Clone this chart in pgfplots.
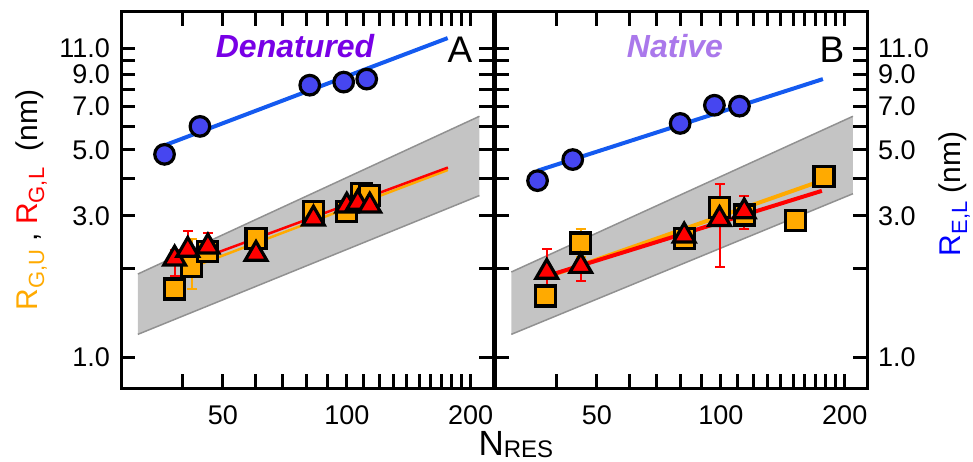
\documentclass[border=0pt]{standalone}
\usepackage{fontspec}
\setmainfont{Liberation Sans}
\usepackage{pgfplots}
\pgfplotsset{compat=1.18}

\definecolor{circfill}{RGB}{70,70,240}
\definecolor{fitblue}{RGB}{20,90,240}
\definecolor{sqorange}{RGB}{255,170,0}
\definecolor{trired}{RGB}{255,0,0}
\definecolor{bandfill}{RGB}{196,196,196}
\definecolor{bandedge}{RGB}{145,145,145}
\definecolor{denat}{RGB}{120,0,230}
\definecolor{nativec}{RGB}{170,120,235}
\definecolor{labblue}{RGB}{0,0,255}

% smaller, lowered text used for subscripts: {size}{drop}{text}
\newcommand\subs[3]{\raisebox{-#2}{\fontsize{#1}{#1}\selectfont #3}}

\pgfplotsset{
  panel/.style={
    scale only axis, width=372pt, height=376pt,
    xmin=28.3, xmax=226.5, ymin=0.789, ymax=14.57,
    axis line style={line width=3pt},
    every tick/.style={draw=black, line width=3pt},
    major tick length=14pt,
    tick align=inside,
    xtick pos=both, ytick pos=both,
    xtick={40,50,60,70,80,90,100,110,120,130,140,150,160,170,180,190,200},
    xticklabels={,50,,,,,100,,,,,,,,,,200},
    ytick={1,2,3,4,5,6,7,8,9,10,11},
    yticklabels={1.0,,3.0,,5.0,,7.0,,9.0,,11.0},
    minor tick num=0,
    axis on top,
    tick label style={font=\fontsize{27}{27}\selectfont, inner sep=0pt},
    xticklabel style={yshift=-17pt},
  },
  circ/.style={only marks, mark=*, mark size=9.8pt,
    mark options={fill=circfill, draw=black, line width=3.2pt}},
  sq/.style={only marks, mark=square*, mark size=10pt,
    mark options={fill=sqorange, draw=black, line width=3.2pt},
    error bars/y dir=both, error bars/y explicit,
    error bars/error bar style={sqorange, line width=2pt},
    error bars/error mark options={rotate=90, sqorange, line width=2pt, mark size=5pt}},
  tri/.style={only marks, mark=triangle*, mark size=12.5pt,
    mark options={fill=trired, draw=black, line width=3.2pt},
    error bars/y dir=both, error bars/y explicit,
    error bars/error bar style={trired, line width=2pt},
    error bars/error mark options={rotate=90, trired, line width=2pt, mark size=5pt}},
}

\begin{document}
\begin{tikzpicture}
\useasboundingbox (0,0) rectangle (973pt,461pt);

% ---------------- Panel A: denatured ----------------
\begin{axis}[xmode=log, ymode=log, panel,
  /pgf/number format/assume math mode=true,
  at={(121pt,73pt)}, anchor=south west,
  yticklabel style={xshift=-11pt}]
  \addplot[fill=bandfill, draw=none] coordinates
    {(31.1,1.91) (210,6.49) (210,3.51) (31.1,1.196)} -- cycle;
  \addplot[bandedge, line width=1.5pt] coordinates {(31.1,1.91) (210,6.49)};
  \addplot[bandedge, line width=1.5pt] coordinates {(31.1,1.196) (210,3.51)};

  \addplot[fitblue, line width=4pt] coordinates {(36.1,5.18) (175.8,11.9)};
  \addplot[circ] coordinates
    {(36.1,4.83) (44.0,6.0) (81.3,8.26) (98.3,8.46) (111.8,8.66)};

  \addplot[sqorange, line width=2.5pt] coordinates {(42.8,2.03) (176,4.28)};
  \addplot[trired, line width=2.5pt] coordinates {(39.5,2.03) (176,4.36)};

  \addplot[sq] coordinates {
    (38.2,1.70)
    (42.0,2.02) += (0,0.49) -= (0,0.32)
    (46.0,2.28)
    (60.2,2.51)
    (83.2,3.10)
    (100,3.10)
    (108.7,3.56)
    (113.7,3.51)
  };
  \addplot[tri] coordinates {
    (38.2,2.15) += (0,0.15) -= (0,0.27)
    (41.1,2.30) += (0,0.37) -= (0,0.42)
    (46.0,2.36) += (0,0.26) -= (0,0.20)
    (60.2,2.23)
    (83.0,2.93)
    (100,3.24)
    (106.3,3.31)
    (113.7,3.24)
  };
\end{axis}

% ---------------- Panel B: native ----------------
\begin{axis}[xmode=log, ymode=log, panel,
  /pgf/number format/assume math mode=true,
  at={(495pt,73pt)}, anchor=south west,
  yticklabel pos=right, yticklabel style={xshift=11pt}]
  \addplot[fill=bandfill, draw=none] coordinates
    {(31.0,1.94) (209.4,6.49) (209.4,3.56) (31.0,1.196)} -- cycle;
  \addplot[bandedge, line width=1.5pt] coordinates {(31.0,1.94) (209.4,6.49)};
  \addplot[bandedge, line width=1.5pt] coordinates {(31.0,1.196) (209.4,3.56)};

  \addplot[fitblue, line width=4pt] coordinates {(36.0,4.26) (177,8.66)};
  \addplot[circ] coordinates
    {(35.9,3.94) (43.7,4.64) (79.7,6.14) (96.5,7.07) (111,7.02)};

  \addplot[sqorange, line width=4pt] coordinates {(37.6,1.86) (175,3.93)};
  \addplot[trired, line width=4pt] coordinates {(37.8,1.88) (176,3.64)};

  \addplot[sq] coordinates {
    (37.6,1.61)
    (45.7,2.43) += (0,0.28) -= (0,0.25)
    (81.5,2.51)
    (99.3,3.19)
    (114.4,3.02)
    (152,2.90)
    (178,4.08)
  };
  \addplot[tri] coordinates {
    (37.8,1.94) += (0,0.38) -= (0,0.43)
    (45.7,2.03) += (0,0.25) -= (0,0.22)
    (81.5,2.57)
    (99.3,2.92) += (0,0.93) -= (0,0.90)
    (114,3.10) += (0,0.40) -= (0,0.39)
  };
\end{axis}

% ---------------- titles and labels ----------------
\node[anchor=base, text=denat, font=\fontsize{32}{32}\selectfont\bfseries\itshape]
  at (295pt,403pt) {Denatured};
\node[anchor=base, font=\fontsize{37}{37}\selectfont] at (460pt,398pt) {A};
\node[anchor=base, text=nativec, font=\fontsize{32}{32}\selectfont\bfseries\itshape]
  at (675pt,403pt) {Native};
\node[anchor=base, font=\fontsize{37}{37}\selectfont] at (832pt,398pt) {B};

\node[rotate=90, anchor=base, font=\fontsize{30}{30}\selectfont] at (37pt,261pt)
  {\textcolor{sqorange}{R\subs{22}{7pt}{G,U}} , \textcolor{trired}{R\subs{22}{7pt}{G,L}}\ \ (nm)};
\node[rotate=90, anchor=base, font=\fontsize{30}{30}\selectfont] at (960pt,267pt)
  {\textcolor{labblue}{R\subs{22}{7pt}{E,L}}\ (nm)};
\node[anchor=base west, font=\fontsize{35}{35}\selectfont] at (475pt,6pt)
  {N\subs{24}{2pt}{RES}};
\end{tikzpicture}
\end{document}
